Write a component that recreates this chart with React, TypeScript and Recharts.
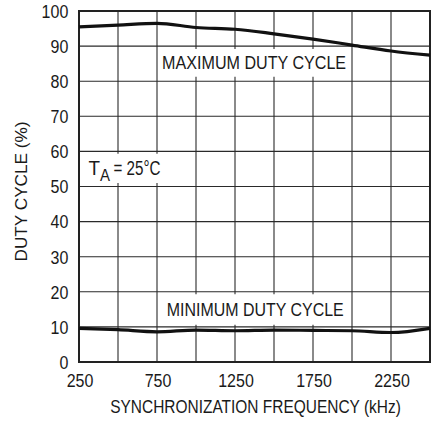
import React from 'react';
import {
  LineChart,
  Line,
  XAxis,
  YAxis,
  CartesianGrid,
  ReferenceArea,
  Label,
} from 'recharts';

const FONT = '"Liberation Sans", Arial, Helvetica, sans-serif';
const INK = '#1a1a1a';

// sync frequency, kHz
const freqs = [250, 500, 750, 1000, 1250, 1500, 1750, 2000, 2250, 2500];
// duty cycle, %
const maxDuty = [95.5, 96.0, 96.5, 95.3, 94.8, 93.5, 92.0, 90.3, 88.6, 87.4];
const minDuty = [9.6, 9.2, 8.6, 9.1, 8.9, 9.1, 9.0, 8.9, 8.4, 9.6];

const xTicks = [250, 500, 750, 1000, 1250, 1500, 1750, 2000, 2250, 2500];
const xLabels = [250, 750, 1250, 1750, 2250];
const yTicks = [0, 10, 20, 30, 40, 50, 60, 70, 80, 90, 100];

const data = freqs.map((f, i) => ({ f, max: maxDuty[i], min: minDuty[i] }));

// narrow digits, like the condensed face in the datasheet
const DIGIT_W = 8.9;

const XTick = (props: any) => {
  const { x, y, payload } = props;
  if (!xLabels.includes(payload.value)) return null;
  const s = String(payload.value);
  return (
    <text
      x={x + 1}
      y={y + 24.7}
      textAnchor="middle"
      fontSize={18}
      fill={INK}
      fontFamily={FONT}
      textLength={s.length * DIGIT_W}
      lengthAdjust="spacingAndGlyphs"
    >
      {s}
    </text>
  );
};

const YTick = (props: any) => {
  const { x, y, payload } = props;
  const s = String(payload.value);
  return (
    <text
      x={x - 10.7 - (s.length * DIGIT_W) / 2}
      y={y + 6.8}
      textAnchor="middle"
      fontSize={18}
      fill={INK}
      fontFamily={FONT}
      textLength={s.length * DIGIT_W}
      lengthAdjust="spacingAndGlyphs"
    >
      {s}
    </text>
  );
};

const boxText = (txt: string, len: number, dy: number) => (props: any) => {
  const vb = props.viewBox;
  return (
    <text
      x={vb.x + vb.width / 2}
      y={vb.y + vb.height / 2 + dy}
      textAnchor="middle"
      fontSize={18.5}
      fill={INK}
      fontFamily={FONT}
      textLength={len}
      lengthAdjust="spacingAndGlyphs"
    >
      {txt}
    </text>
  );
};

const tempLabel = (props: any) => {
  const vb = props.viewBox;
  const x0 = vb.x + 4.3;
  const base = vb.y + vb.height / 2 + 7;
  return (
    <g fill={INK} fontFamily={FONT}>
      <text x={x0} y={base} fontSize={20} textLength={11.5} lengthAdjust="spacingAndGlyphs">
        T
      </text>
      <text x={x0 + 11.5} y={base + 5.5} fontSize={16} textLength={10} lengthAdjust="spacingAndGlyphs">
        A
      </text>
      <text x={x0 + 25} y={base} fontSize={20} textLength={47} lengthAdjust="spacingAndGlyphs">
        = 25°C
      </text>
    </g>
  );
};

export default function App() {
  return (
    <div style={{ position: 'absolute', left: 0, top: 0, background: '#fff', width: 439, height: 421 }}>
      <LineChart
        width={439}
        height={421}
        data={data}
        margin={{ top: 11, right: 9, left: 19, bottom: 0 }}
      >
        <CartesianGrid stroke="#2a2a2a" strokeWidth={1.1} horizontalValues={yTicks} verticalValues={xTicks} />
        <XAxis
          dataKey="f"
          type="number"
          domain={[250, 2500]}
          ticks={xTicks}
          interval={0}
          height={59}
          axisLine={false}
          tickLine={false}
          tickSize={0}
          tickMargin={0}
          tick={<XTick />}
        >
          <Label
            content={() => (
              <text
                x={0}
                y={0}
                transform="translate(255.5 412.5) scale(0.86 1)"
                textAnchor="middle"
                fontSize={18}
                fill={INK}
                fontFamily={FONT}
              >
                SYNCHRONIZATION FREQUENCY (kHz)
              </text>
            )}
          />
        </XAxis>
        <YAxis
          type="number"
          domain={[0, 100]}
          ticks={yTicks}
          interval={0}
          width={60}
          axisLine={false}
          tickLine={false}
          tickSize={0}
          tickMargin={0}
          tick={<YTick />}
        >
          <Label
            content={() => (
              <text
                x={0}
                y={0}
                transform="translate(27 191.5) rotate(-90)"
                textAnchor="middle"
                fontSize={16}
                fill={INK}
                fontFamily={FONT}
                textLength={140}
                lengthAdjust="spacingAndGlyphs"
              >
                DUTY CYCLE (%)
              </text>
            )}
          />
        </YAxis>
        <ReferenceArea
          x1={770}
          x2={1975}
          y1={81.3}
          y2={89.2}
          fill="#fff"
          fillOpacity={1}
          stroke="none"
          label={boxText('MAXIMUM DUTY CYCLE', 184, 6.5)}
        />
        <ReferenceArea
          x1={770}
          x2={1990}
          y1={10.6}
          y2={19.3}
          fill="#fff"
          fillOpacity={1}
          stroke="none"
          label={boxText('MINIMUM DUTY CYCLE', 177, 6.5)}
        />
        <ReferenceArea
          x1={283}
          x2={800}
          y1={51}
          y2={59.3}
          fill="#fff"
          fillOpacity={1}
          stroke="none"
          label={tempLabel}
        />
        <Line
          dataKey="max"
          type="monotone"
          stroke="#111"
          strokeWidth={3.2}
          dot={false}
          isAnimationActive={false}
        />
        <Line
          dataKey="min"
          type="monotone"
          stroke="#111"
          strokeWidth={3.2}
          dot={false}
          isAnimationActive={false}
        />
        <ReferenceArea x1={250} x2={2500} y1={0} y2={100} fill="none" stroke="#222" strokeWidth={2} />
      </LineChart>
    </div>
  );
}
